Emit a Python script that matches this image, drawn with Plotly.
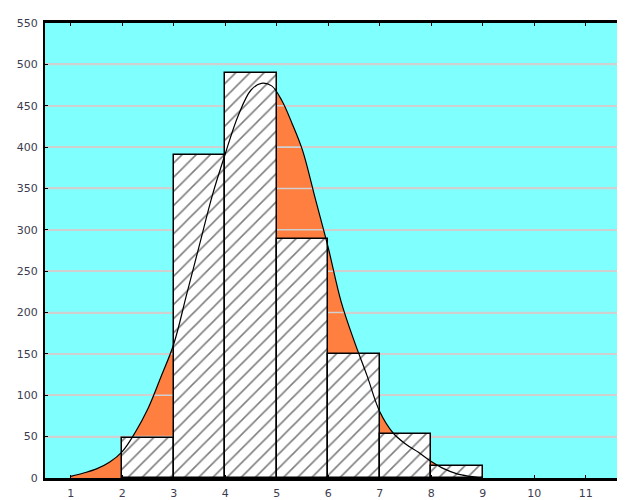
import plotly.graph_objects as go

# ---- data ----
bin_edges = [2, 3, 4, 5, 6, 7, 8, 9]
bar_counts = [48, 390, 489, 289, 150, 53, 14]

curve_x = [1.0, 1.25, 1.5, 1.75, 2.0, 2.25, 2.5, 2.75, 3.0, 3.25, 3.5, 3.75,
           4.0, 4.25, 4.5, 4.7, 4.9, 5.1, 5.3, 5.5, 5.75, 6.0, 6.25, 6.5,
           6.75, 7.0, 7.25, 7.5, 7.75, 8.0, 8.25, 8.5, 8.75, 9.0]
curve_y = [2, 6, 11, 19, 32, 55, 84, 122, 162, 222, 282, 342,
           392, 438, 469, 477, 474, 456, 428, 396, 337, 278, 213, 166,
           124, 80, 55, 41, 31, 20, 11, 5, 2, 0]

x_ticks = [1, 2, 3, 4, 5, 6, 7, 8, 9, 10, 11]
y_ticks = [0, 50, 100, 150, 200, 250, 300, 350, 400, 450, 500, 550]

x_range = [0.5, 11.76]
y_range = [0, 550]

# ---- styles ----
BG = "#80FFFF"
ORANGE = "#FF7F40"
GRID = "#D0D0D0"
TXT = "#3C3C50"

bar_centers = [(a + b) / 2 for a, b in zip(bin_edges[:-1], bin_edges[1:])]
bar_widths = [b - a for a, b in zip(bin_edges[:-1], bin_edges[1:])]

fig = go.Figure()

# orange area under the fitted curve (main subplot, drawn first)
fig.add_trace(go.Scatter(
    x=curve_x, y=curve_y, mode="lines", fill="tozeroy",
    fillcolor=ORANGE, line=dict(color=ORANGE, width=0, shape="spline", smoothing=1.0),
    hoverinfo="skip", showlegend=False, xaxis="x", yaxis="y"))

# grid lines drawn above the orange area but below the bars
gx, gy = [], []
for v in y_ticks[1:-1]:
    gx += [x_range[0], x_range[1], None]
    gy += [v, v, None]
fig.add_trace(go.Scatter(
    x=gx, y=gy, mode="lines", line=dict(color=GRID, width=1.6),
    hoverinfo="skip", showlegend=False, xaxis="x", yaxis="y"))

# hatched histogram bars (overlay subplot, drawn above)
fig.add_trace(go.Bar(
    x=bar_centers, y=bar_counts, width=bar_widths,
    marker=dict(color="white", line=dict(color="black", width=1.5),
                pattern=dict(shape="/", fgcolor="black", bgcolor="white",
                             size=10, solidity=0.16)),
    showlegend=False, xaxis="x", yaxis="y2"))

# fitted curve line on top
fig.add_trace(go.Scatter(
    x=curve_x, y=curve_y, mode="lines",
    line=dict(color="black", width=1.2, shape="spline", smoothing=1.0),
    showlegend=False, xaxis="x", yaxis="y2"))

# the page body has an 8px margin, so the figure is sized to fill the rest
fig.update_layout(
    width=617, height=492,
    margin=dict(l=37, r=0, t=15, b=22, autoexpand=False),
    paper_bgcolor="white", plot_bgcolor=BG,
    bargap=0,
    font=dict(family="DejaVu Sans", size=11, color=TXT),
    xaxis=dict(range=x_range, tickvals=x_ticks, ticks="inside", ticklen=3,
               tickcolor="black", showline=True, linecolor="black", linewidth=2.5,
               mirror="ticks", showgrid=False, zeroline=False,
               ticklabelstandoff=3,
               tickfont=dict(size=11, color=TXT)),
    yaxis=dict(range=y_range, tickvals=y_ticks, ticks="inside", ticklen=3,
               tickcolor="black", showline=True, linecolor="black", linewidth=2,
               showgrid=True, gridcolor=GRID, gridwidth=1.6, zeroline=False,
               ticklabelstandoff=3,
               tickfont=dict(size=11, color=TXT)),
    yaxis2=dict(range=y_range, overlaying="y", visible=False),
)

fig.write_html("out.html")
